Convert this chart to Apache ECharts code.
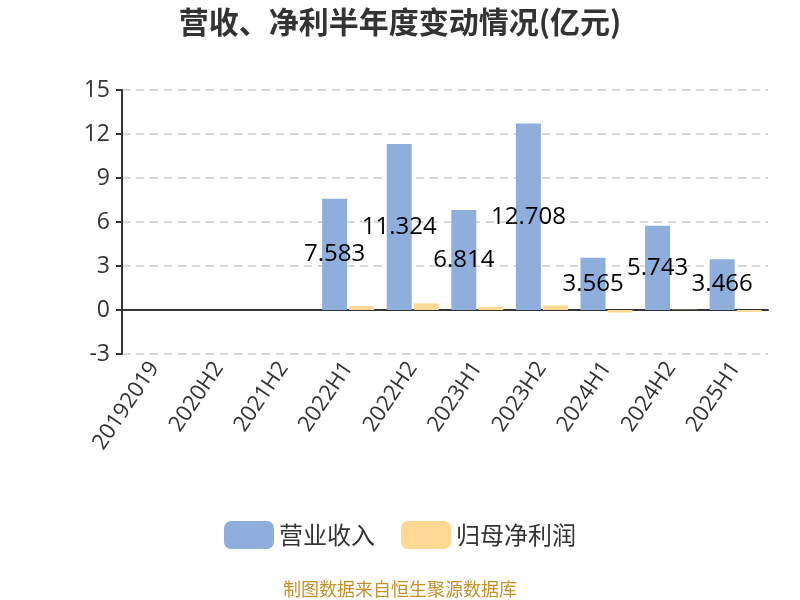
<!DOCTYPE html>
<html><head><meta charset="utf-8">
<script src="https://cdn.jsdelivr.net/npm/echarts@6/dist/echarts.min.js"></script>
<style>html,body{margin:0;padding:0;background:#fff}#c{width:800px;height:600px}</style>
</head><body><div id="c"></div>
<script>
const categories = ['20192019','2020H2','2021H2','2022H1','2022H2','2023H1','2023H2','2024H1','2024H2','2025H1'];
const revenue = [null,null,null,7.583,11.324,6.814,12.708,3.565,5.743,3.466];
const netProfit = [null,null,null,0.27,0.45,0.22,0.32,-0.18,0.02,-0.13];
const yTicks = {min:-3,max:15,interval:3};
const chart = echarts.init(document.getElementById('c'));
chart.setOption({
  animation:false,
  title:{text:'营收、净利半年度变动情况(亿元)',left:'center',top:2,textStyle:{fontSize:30,fontWeight:'bold',color:'#333',fontFamily:'Noto Sans CJK SC'}},
  grid:{left:122,right:32,top:90,bottom:246,containLabel:false},
  legend:{bottom:46,itemWidth:50,itemHeight:28,itemGap:26,itemTextGap:10,textStyle:{fontSize:24,color:'#333',fontFamily:'Noto Sans CJK SC'},data:['营业收入','归母净利润']},
  graphic:[{type:'text',left:'center',bottom:2,style:{text:'制图数据来自恒生聚源数据库',fill:'#c8902a',fontSize:18,fontFamily:'Noto Sans CJK SC'}}],
  xAxis:{type:'category',data:categories,axisLine:{lineStyle:{color:'#333',width:2}},axisTick:{lineStyle:{color:'#333',width:2},length:6},
    axisLabel:{rotate:56,fontSize:22,color:'#333',margin:10,fontFamily:'Open Sans'}},
  yAxis:{type:'value',min:yTicks.min,max:yTicks.max,interval:yTicks.interval,
    axisLine:{show:true,lineStyle:{color:'#333',width:2}},axisTick:{show:true,length:6,lineStyle:{color:'#333',width:2}},
    axisLabel:{fontSize:23,color:'#333',margin:12,fontFamily:'Open Sans'},
    splitLine:{lineStyle:{type:[8,6],color:'#ccc',width:1.5}}},
  series:[
    {name:'营业收入',type:'bar',data:revenue,barWidth:25,barGap:'8%',itemStyle:{color:'#8eaedb'},
      label:{show:true,position:'inside',color:'#000',fontSize:24,fontFamily:'Open Sans'}},
    {name:'归母净利润',type:'bar',data:netProfit,barWidth:25,itemStyle:{color:'#fed994'}}
  ]
});
</script></body></html>
